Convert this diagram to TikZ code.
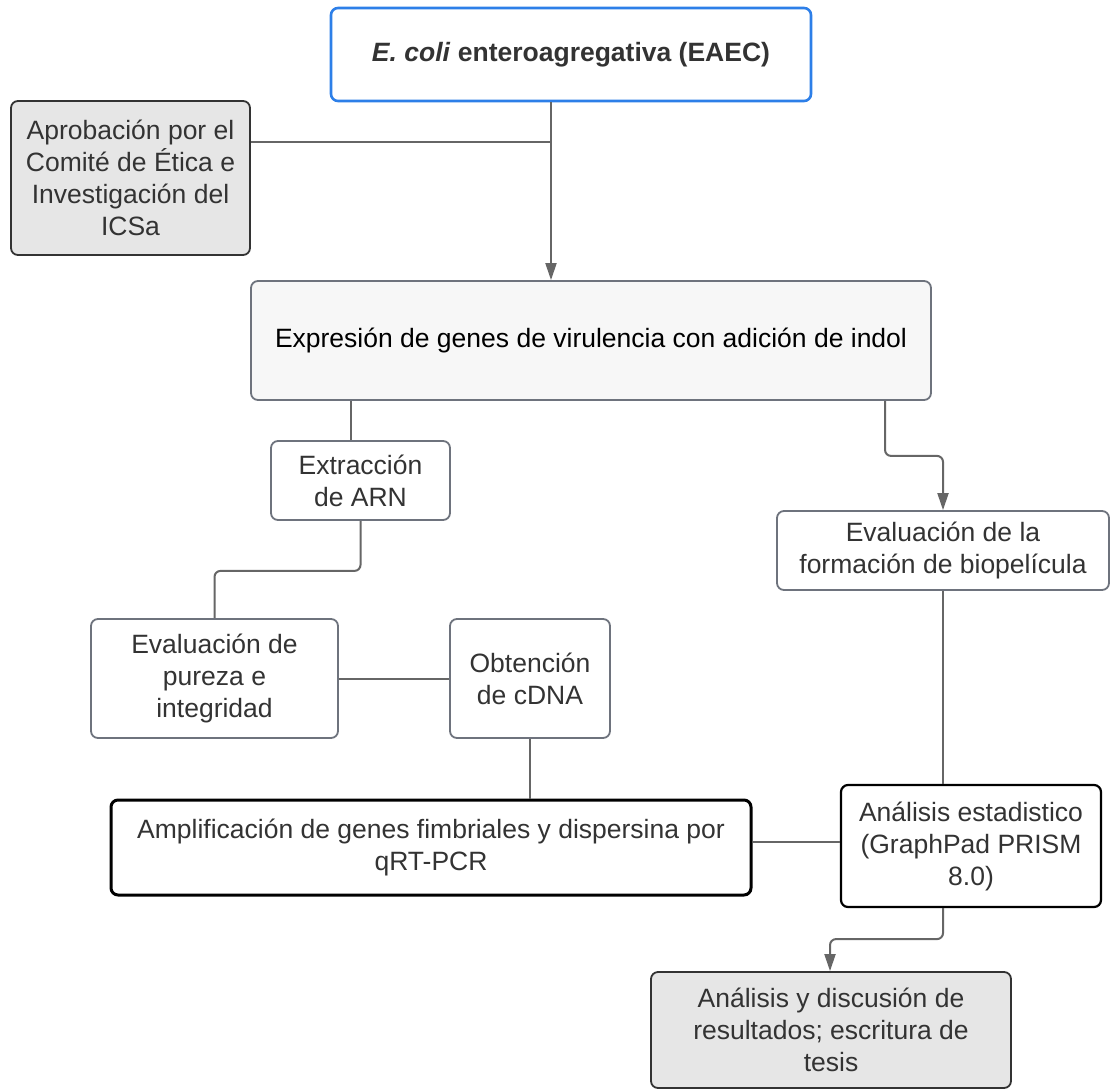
\documentclass[tikz,border=0pt]{standalone}
\usepackage{fontspec}
\setmainfont{Liberation Sans}
\usetikzlibrary{arrows.meta,calc}
\definecolor{txt}{HTML}{333333}
\definecolor{ln}{HTML}{666666}
\definecolor{bx}{HTML}{6E737D}
\definecolor{blueb}{HTML}{2D7FE8}
\definecolor{grayfill}{HTML}{E6E6E6}
\definecolor{lightfill}{HTML}{F7F7F7}
\begin{document}
\begin{tikzpicture}[x=1pt,y=-1pt,
  box/.style={draw=bx,line width=1.8pt,rounded corners=7pt,fill=white,align=center,text=txt,inner sep=0pt,font=\fontsize{26.5}{32}\selectfont},
  conn/.style={draw=ln,line width=2pt},
  arr/.style={conn,-{Triangle[length=17pt,width=11pt]}}]
\useasboundingbox (0,0) rectangle (1110,1089);

\node[box,draw=blueb,line width=2.6pt,minimum width=480pt,minimum height=93pt] (ecoli) at (571,54.5)
  {\bfseries\textit{E. coli} enteroagregativa (EAEC)};
\node[box,fill=grayfill,draw=txt,minimum width=239pt,minimum height=154pt,font=\fontsize{26.5}{32}\selectfont] (aprob) at (130.5,178)
  {Aprobación por el\\Comité de Ética e\\Investigación del\\ICSa};
\node[box,fill=lightfill,text=black,minimum width=680pt,minimum height=119pt] (expr) at (591,340.5)
  {Expresión de genes de virulencia con adición de indol};
\node[box,minimum width=179pt,minimum height=79pt] (extr) at (360.5,480.5)
  {Extracción\\de ARN};
\node[box,minimum width=247pt,minimum height=119pt] (pur) at (214.5,678.5)
  {Evaluación de\\pureza e\\integridad};
\node[box,minimum width=160pt,minimum height=119pt] (cdna) at (530,678.5)
  {Obtención\\de cDNA};
\node[box,draw=black,line width=3pt,minimum width=640pt,minimum height=95pt] (ampl) at (431,847.5)
  {Amplificación de genes fimbriales y dispersina por\\qRT-PCR};
\node[box,minimum width=332pt,minimum height=79pt] (bio) at (943,550.5)
  {Evaluación de la\\formación de biopelícula};
\node[box,draw=black,line width=2.2pt,minimum width=260pt,minimum height=122pt] (stat) at (971,846)
  {Análisis estadistico\\(GraphPad PRISM\\8.0)};
\node[box,fill=grayfill,draw=txt,minimum width=360pt,minimum height=116pt] (disc) at (831,1030)
  {Análisis y discusión de\\resultados; escritura de\\tesis};

\coordinate (j) at (551,142);
\draw[arr] ([xshift=-20pt]ecoli.south) -- ([xshift=-40pt]expr.north);
\draw[conn] ([yshift=36pt]aprob.east) -- (j);
\draw[conn] ([xshift=-240pt]expr.south) -- ([xshift=-9.5pt]extr.north);
\draw[conn,rounded corners=6pt] (extr.south) -- ++(0,50) -| (pur.north);
\draw[conn] (pur.east) -- (cdna.west);
\draw[conn] (cdna.south) -- (ampl.north -| cdna.south);
\draw[arr,rounded corners=6pt] ([xshift=294pt]expr.south) -- ++(0,55) -| (bio.north);
\draw[conn] (bio.south) -- (stat.north -| bio.south);
\draw[conn] ([yshift=5.5pt]ampl.east) -- ([yshift=5.5pt]ampl.east -| stat.west);
\draw[arr,rounded corners=6pt] (stat.south -| bio.south) -- ++(0,31) -| ([xshift=-1pt]disc.north);
\end{tikzpicture}
\end{document}
